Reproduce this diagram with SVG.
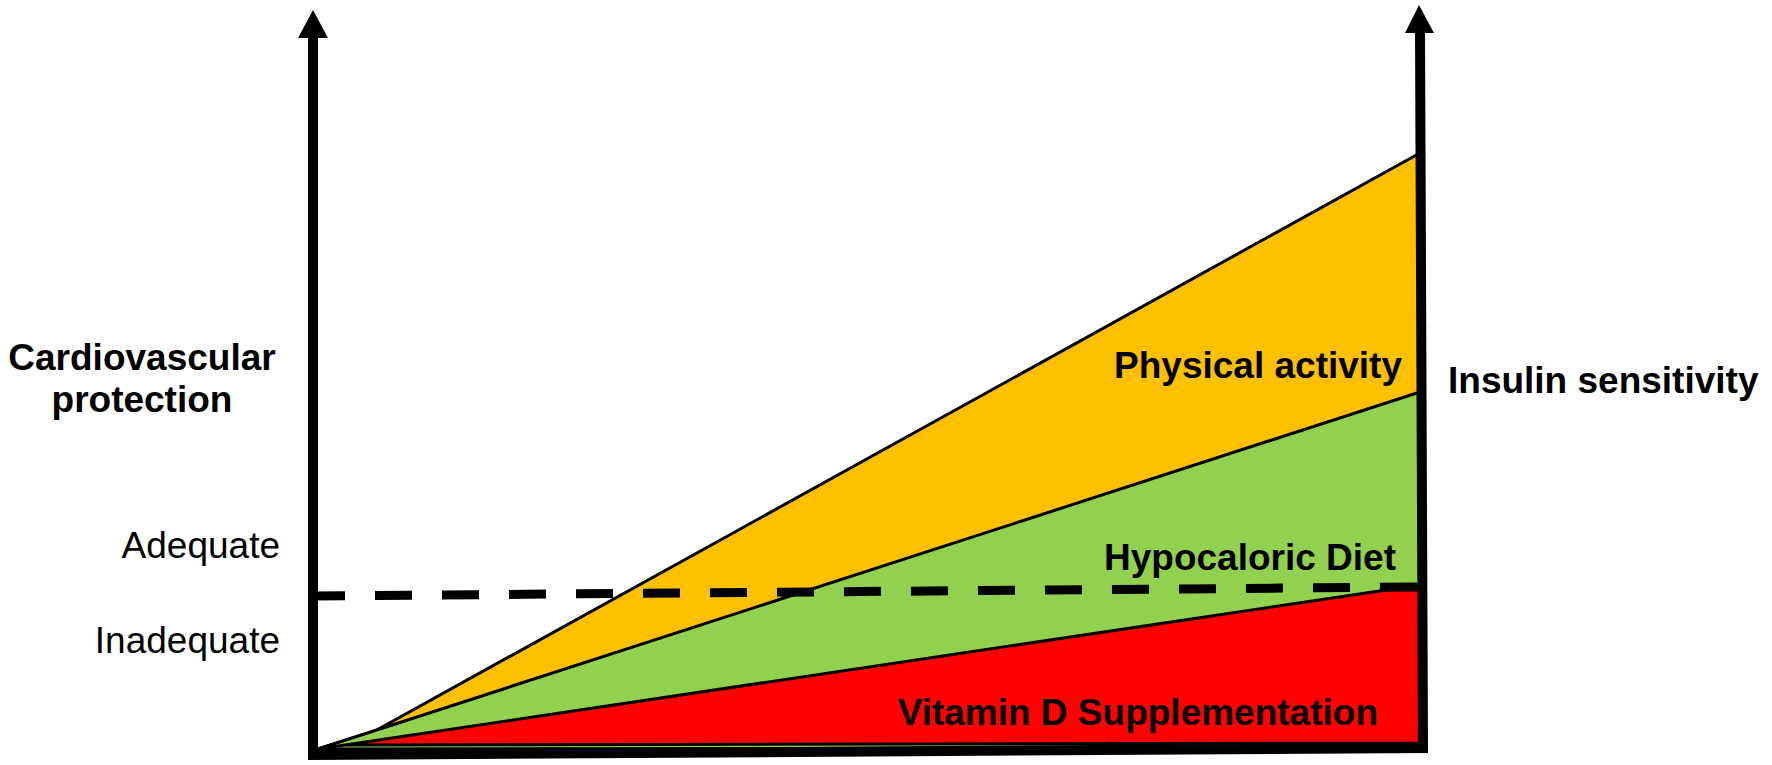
<svg xmlns="http://www.w3.org/2000/svg" width="1772" height="765" viewBox="0 0 1772 765">
<style>
.b{font-family:"Liberation Sans",Arial,sans-serif;font-weight:bold;font-size:37px;fill:#000}
.r{font-family:"Liberation Sans",Arial,sans-serif;font-size:37px;fill:#000}
.area{stroke:#000;stroke-width:3;stroke-linejoin:round}
.axis{stroke:#000;stroke-width:10;fill:none}
</style>
<rect width="1772" height="765" fill="#fff"/>
<g id="areas">
<polygon id="physical" class="area" fill="#FFC000" points="318,749 375,731 1420,153 1420,748"/>
<polygon id="diet" class="area" fill="#92D050" points="318,749 1420,392 1420,748"/>
<polygon id="vitd" class="area" fill="#FF0000" points="318,749 1420,585 1420,743 345,745"/>
</g>
<g id="connectors">
<line x1="313" y1="596" x2="1418" y2="587" stroke="#000" stroke-width="9" stroke-dasharray="37,30" stroke-dashoffset="5"/>
<line class="axis" x1="313" y1="36" x2="313" y2="752"/>
<polygon points="313,10 298,38 328,38" fill="#000"/>
<line class="axis" x1="1420" y1="31" x2="1423" y2="748"/>
<polygon points="1419,5 1405,33 1434,33" fill="#000"/>
<line class="axis" x1="308" y1="755" x2="1428" y2="748"/>
</g>
<g id="labels">
<text class="b" x="142" y="370" text-anchor="middle">Cardiovascular</text>
<text class="b" x="142" y="412" text-anchor="middle">protection</text>
<text class="r" x="280" y="558" text-anchor="end">Adequate</text>
<text class="r" x="280" y="653" text-anchor="end">Inadequate</text>
<text class="b" x="1448" y="393">Insulin sensitivity</text>
<text class="b" x="1402" y="378" text-anchor="end">Physical activity</text>
<text class="b" x="1396" y="570" text-anchor="end">Hypocaloric Diet</text>
<text class="b" x="1378" y="725" text-anchor="end">Vitamin D Supplementation</text>
</g>
</svg>
